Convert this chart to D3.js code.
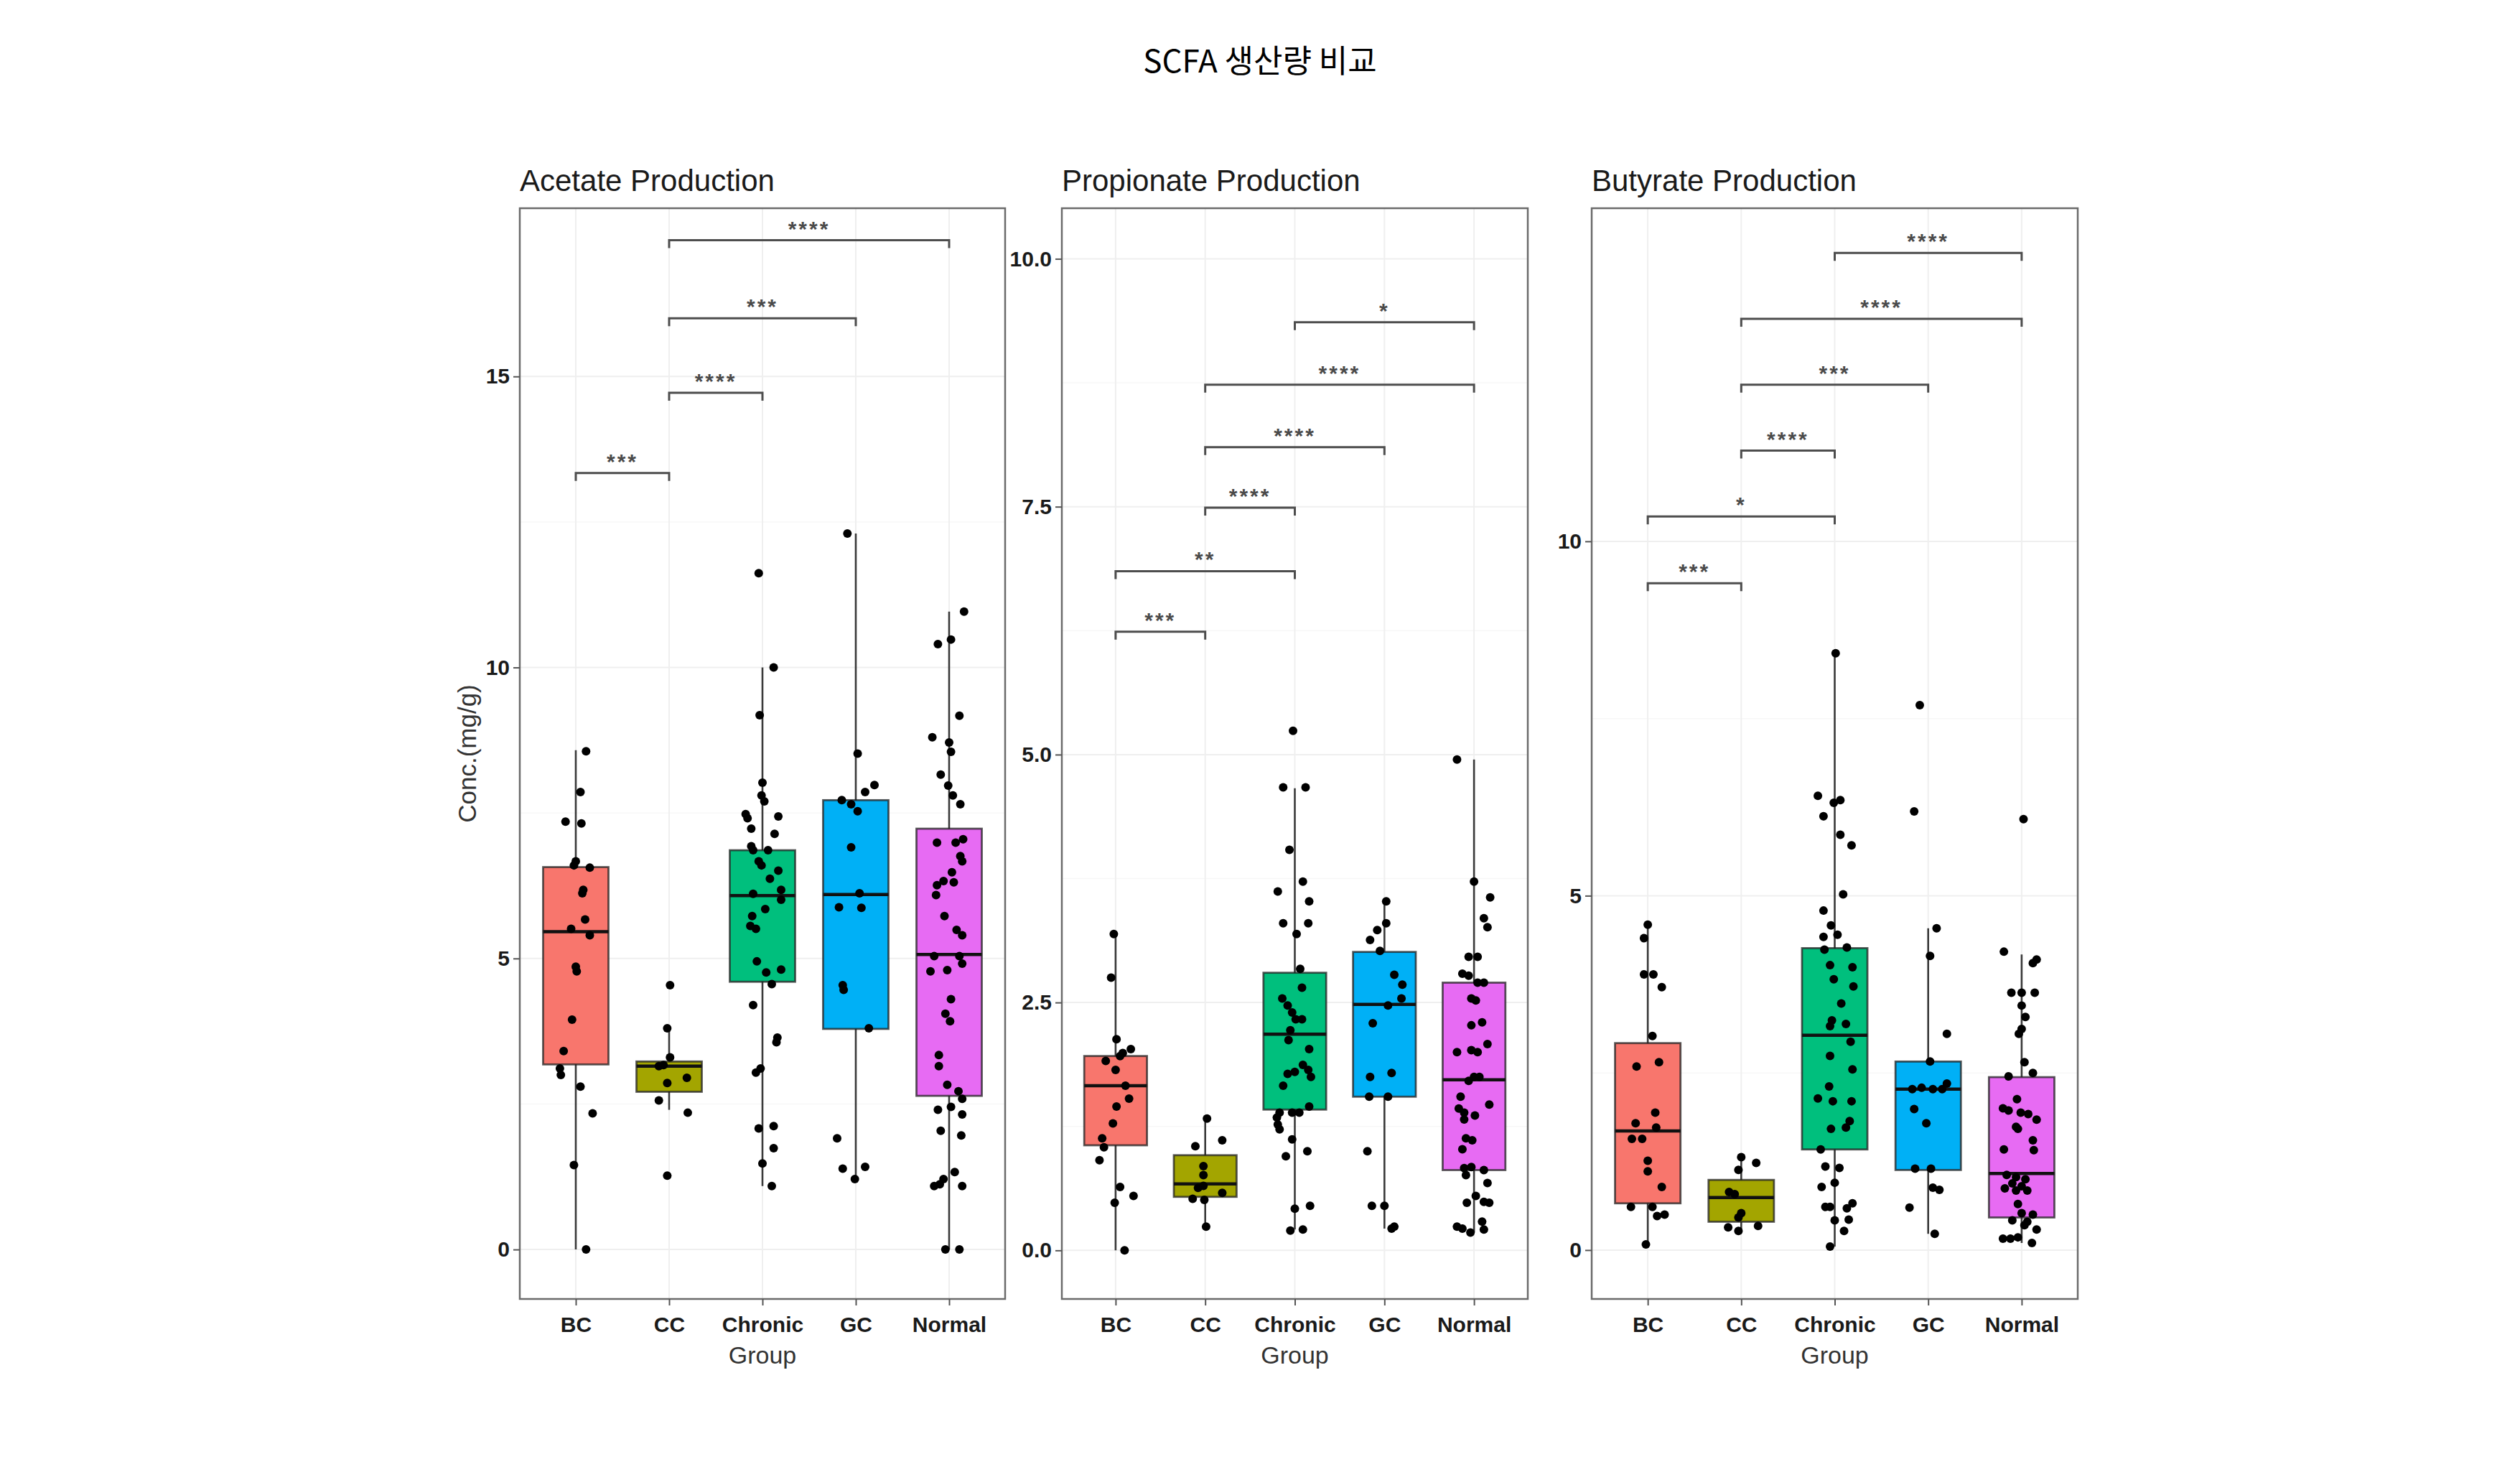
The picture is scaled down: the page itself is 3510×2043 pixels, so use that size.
<!DOCTYPE html>
<html>
<head>
<meta charset="utf-8">
<script src="https://cdn.jsdelivr.net/npm/d3@7/dist/d3.min.js"></script>
<style>
  html, body { margin: 0; padding: 0; background: #ffffff; }
  svg { display: block; }
</style>
</head>
<body>
<script>
// ---------------- DATA ----------------
const chartTitle = "SCFA 생산량 비교";
const categories = ["BC", "CC", "Chronic", "GC", "Normal"];
const panelTitles = ["Acetate Production", "Propionate Production", "Butyrate Production"];
const yAxisTitle = "Conc.(mg/g)";
const xAxisTitle = "Group";

// y-axis ticks
const acetateTicks = [0, 5, 10, 15];
const propionateTicks = [0, 2.5, 5, 7.5, 10];
const butyrateTicks = [0, 5, 10];
// y-axis domains (data range with 5% expansion)
const acetateDomain = [-0.85, 17.89];
const propionateDomain = [-0.49, 10.51];
const butyrateDomain = [-0.69, 14.70];

// box statistics: [lower whisker, Q1, median, Q3, upper whisker] per category
const acetateStats = [
  [0, 3.18, 5.46, 6.57, 8.58],
  [2.40, 2.71, 3.15, 3.23, 3.80],
  [1.09, 4.60, 6.08, 6.86, 10.0],
  [1.21, 3.79, 6.10, 7.72, 12.3],
  [0, 2.64, 5.07, 7.23, 10.96]
];
const propionateStats = [
  [0, 1.06, 1.66, 1.96, 3.19],
  [0.24, 0.54, 0.67, 0.96, 1.33],
  [0.21, 1.42, 2.18, 2.80, 4.66],
  [0.22, 1.55, 2.48, 3.01, 3.53],
  [0.18, 0.81, 1.72, 2.70, 4.95]
];
const butyrateStats = [
  [0.08, 0.66, 1.68, 2.92, 4.59],
  [0.29, 0.40, 0.74, 0.99, 1.32],
  [0.05, 1.42, 3.03, 4.26, 8.42],
  [0.23, 1.13, 2.27, 2.66, 4.54],
  [0.10, 0.46, 1.08, 2.44, 4.17]
];

// individual observations: [value, jitter (in category units)]
const acetateBC = [[8.56,0.11],[7.86,0.05],[7.35,-0.11],[7.32,0.06],[6.67,0],[6.60,-0.02],[6.56,0.15],[6.18,0.08],[6.12,0.07],[5.67,0.10],[5.51,-0.05],[5.40,0.15],[4.86,0],[4.78,0.01],[3.95,-0.04],[3.41,-0.13],[3.11,-0.17],[3.00,-0.16],[2.80,0.05],[2.34,0.18],[1.45,-0.02],[0,0.11]];
const acetateCC = [[4.54,0.01],[3.80,-0.02],[3.30,0.01],[3.17,-0.06],[3.15,-0.11],[2.95,0.19],[2.86,-0.02],[2.56,-0.11],[2.35,0.20],[1.27,-0.02]];
const acetateChronic = [[11.62,-0.04],[10.0,0.12],[9.18,-0.03],[8.02,0],[7.80,-0.01],[7.70,0.02],[7.48,-0.18],[7.41,-0.16],[7.44,0.17],[7.23,-0.12],[7.14,0.13],[6.93,-0.12],[6.86,-0.10],[6.86,0.06],[6.67,-0.04],[6.60,-0.01],[6.51,0.17],[6.37,0.08],[6.18,0.2],[6.01,0.2],[6.11,-0.1],[5.85,0.03],[5.73,-0.11],[5.56,-0.13],[5.51,-0.07],[4.95,-0.06],[4.76,0.04],[4.81,0.2],[4.56,0.1],[4.20,-0.1],[3.64,0.16],[3.56,0.15],[3.04,-0.07],[3.11,-0.02],[2.08,-0.04],[2.12,0.12],[1.74,0.12],[1.48,0],[1.09,0.1]];
const acetateGC = [[12.3,-0.09],[8.52,0.02],[7.98,0.2],[7.86,0.1],[7.72,-0.15],[7.65,-0.05],[7.53,0.02],[6.91,-0.05],[6.12,0.04],[5.88,-0.18],[5.87,0.06],[4.54,-0.14],[4.46,-0.13],[3.80,0.14],[1.91,-0.2],[1.39,-0.14],[1.42,0.1],[1.21,-0.01]];
const acetateNormal = [[10.96,0.16],[10.48,0.02],[10.40,-0.12],[9.17,0.11],[8.80,-0.18],[8.71,0],[8.55,0.02],[8.16,-0.09],[7.97,-0.01],[7.80,0.04],[7.65,0.12],[6.99,-0.13],[6.99,0.07],[7.05,0.15],[6.76,0.12],[6.67,0.14],[6.48,0.03],[6.33,-0.06],[6.31,0.05],[6.26,-0.13],[6.09,-0.14],[5.73,-0.05],[5.49,0.08],[5.40,0.14],[5.04,-0.16],[5.04,0.11],[4.91,0.14],[4.78,-0.2],[4.80,-0.02],[4.30,0.02],[4.05,-0.04],[3.92,0.01],[3.34,-0.11],[3.15,-0.11],[2.83,-0.02],[2.72,0.1],[2.59,0.14],[2.40,-0.12],[2.45,0.02],[2.32,0.14],[2.04,-0.09],[1.96,0.13],[1.33,0.06],[1.21,-0.06],[1.09,-0.16],[1.12,-0.1],[1.09,0.14],[0,-0.04],[0,0.11]];

const propionateBC = [[3.19,-0.02],[2.75,-0.05],[2.13,0.01],[2.03,0.17],[1.99,0.08],[1.96,0.05],[1.91,-0.11],[1.82,0],[1.66,0.11],[1.53,0.15],[1.45,0.01],[1.28,-0.03],[1.13,-0.15],[1.04,-0.13],[0.91,-0.18],[0.64,0.05],[0.55,0.2],[0.48,-0.01],[0,0.1]];
const propionateCC = [[1.33,0.02],[1.11,0.19],[1.05,-0.11],[0.85,-0.02],[0.76,-0.02],[0.65,-0.02],[0.63,-0.08],[0.58,0.19],[0.52,-0.14],[0.51,-0.01],[0.24,0.01]];
const propionateChronic = [[5.24,-0.02],[4.67,-0.13],[4.67,0.12],[4.04,-0.06],[3.72,0.09],[3.62,-0.19],[3.52,0.16],[3.30,-0.13],[3.30,0.15],[3.19,0.02],[2.84,0.06],[2.65,0.08],[2.54,-0.14],[2.47,-0.08],[2.40,-0.03],[2.33,0.01],[2.33,0.08],[2.22,-0.05],[2.12,-0.07],[2.03,0.16],[1.87,0.09],[1.80,0],[1.78,-0.08],[1.82,0.15],[1.75,0.18],[1.66,-0.13],[1.45,0.16],[1.39,-0.17],[1.39,-0.03],[1.39,0.05],[1.34,-0.2],[1.27,-0.19],[1.22,-0.17],[1.12,-0.03],[1.00,0.14],[0.95,-0.1],[0.45,0.17],[0.42,0],[0.20,-0.05],[0.21,0.09]];
const propionateGC = [[3.52,0.02],[3.30,0.02],[3.23,-0.08],[3.13,-0.16],[3.02,-0.05],[2.78,0.11],[2.68,0.2],[2.54,0.19],[2.47,0.04],[2.29,-0.13],[1.79,0.08],[1.75,-0.16],[1.55,-0.17],[1.55,0.04],[1.00,-0.19],[0.45,-0.14],[0.45,0],[0.22,0.08],[0.24,0.11]];
const propionateNormal = [[4.95,-0.19],[3.72,0],[3.56,0.18],[3.35,0.11],[3.26,0.15],[2.96,0.04],[2.96,-0.06],[2.79,-0.13],[2.77,-0.06],[2.70,0.04],[2.70,0.11],[2.54,-0.03],[2.52,0.02],[2.27,-0.03],[2.30,0.09],[2.00,-0.19],[2.02,-0.03],[2.00,0.04],[2.08,0.15],[1.75,0],[1.75,0.06],[1.71,-0.06],[1.55,-0.15],[1.43,-0.17],[1.39,-0.11],[1.36,0.01],[1.47,0.17],[1.32,-0.11],[1.13,-0.09],[1.11,-0.02],[1.02,-0.13],[0.83,-0.11],[0.84,-0.03],[0.81,0.11],[0.76,-0.09],[0.68,0.15],[0.55,0.02],[0.48,-0.08],[0.49,0.11],[0.48,0.17],[0.29,0.09],[0.24,-0.19],[0.22,-0.13],[0.18,-0.04],[0.21,0.11]];

const butyrateBC = [[4.59,0],[4.40,-0.04],[3.89,-0.04],[3.89,0.06],[3.71,0.15],[3.02,0.05],[2.59,-0.12],[2.65,0.12],[1.94,0.08],[1.79,-0.13],[1.73,0.09],[1.57,-0.17],[1.57,-0.06],[1.26,0],[1.11,0],[0.89,0.15],[0.61,-0.18],[0.61,0.05],[0.48,0.1],[0.50,0.18],[0.08,-0.02]];
const butyrateCC = [[1.31,0],[1.23,0.16],[1.13,-0.03],[0.82,-0.13],[0.79,-0.07],[0.52,0],[0.46,-0.03],[0.32,-0.14],[0.27,-0.03],[0.34,0.18]];
const butyrateChronic = [[8.42,0.01],[6.41,-0.18],[6.31,-0.01],[6.35,0.06],[6.12,-0.12],[5.86,0.06],[5.71,0.18],[5.02,0.09],[4.79,-0.12],[4.58,-0.04],[4.42,-0.12],[4.45,0.03],[4.24,-0.11],[4.27,0.13],[4.02,-0.05],[3.99,0.19],[3.82,-0.01],[3.72,0.2],[3.48,0.07],[3.24,-0.03],[3.19,0.12],[3.16,-0.05],[2.94,0.17],[2.74,-0.05],[2.55,0.19],[2.31,-0.06],[2.14,-0.18],[2.10,-0.02],[2.10,0.18],[1.71,-0.04],[1.73,0.12],[1.82,0.16],[1.42,-0.15],[1.18,-0.1],[1.16,0.05],[0.95,0],[0.89,-0.14],[0.66,0.19],[0.61,-0.05],[0.61,-0.1],[0.59,0.13],[0.42,0],[0.43,0.15],[0.27,0.1],[0.05,-0.05]];
const butyrateGC = [[7.69,-0.09],[6.19,-0.15],[4.54,0.09],[4.15,0.02],[3.05,0.2],[2.66,0.02],[2.35,0.2],[2.27,-0.17],[2.29,-0.07],[2.27,0.05],[2.27,0.15],[1.99,-0.15],[1.79,-0.02],[1.15,-0.14],[1.15,0.03],[0.88,0.05],[0.85,0.12],[0.60,-0.2],[0.23,0.07]];
const butyrateNormal = [[6.08,0.02],[4.21,-0.19],[4.10,0.16],[4.05,0.12],[3.63,-0.11],[3.63,0],[3.63,0.14],[3.45,0],[3.29,0.04],[3.12,0],[3.05,-0.03],[2.65,0.03],[2.45,-0.14],[2.50,0.12],[2.13,-0.05],[2.00,-0.2],[1.97,-0.14],[1.94,-0.01],[1.92,0.07],[1.84,0.16],[1.74,-0.06],[1.71,-0.04],[1.55,0.12],[1.42,-0.19],[1.41,0.13],[1.06,-0.16],[1.03,-0.06],[1.00,0.04],[0.94,-0.1],[0.90,0],[0.87,-0.18],[0.84,-0.06],[0.84,0.06],[0.65,-0.04],[0.52,0],[0.42,-0.1],[0.50,0.12],[0.40,0.06],[0.29,0.16],[0.16,-0.2],[0.16,-0.12],[0.18,-0.04],[0.10,0.11],[0.35,0.03]];

// significance brackets: [group A, group B, height, label]
const acetateBrackets = [["BC","CC",13.34,"***"],["CC","Chronic",14.72,"****"],["CC","GC",16.0,"***"],["CC","Normal",17.34,"****"]];
const propionateBrackets = [["BC","CC",6.24,"***"],["BC","Chronic",6.85,"**"],["CC","Chronic",7.49,"****"],["CC","GC",8.10,"****"],["CC","Normal",8.73,"****"],["Chronic","Normal",9.36,"*"]];
const butyrateBrackets = [["BC","CC",9.41,"***"],["BC","Chronic",10.35,"*"],["CC","Chronic",11.28,"****"],["CC","GC",12.21,"***"],["CC","Normal",13.14,"****"],["Chronic","Normal",14.07,"****"]];

// ---------------- LAYOUT / STYLE ----------------
const W = 3510, H = 2043;
const fillColors = ["#F8766D", "#A3A500", "#00BF7D", "#00B0F6", "#E76BF3"];
const panelBoxes = [
  { left: 724, right: 1400 },
  { left: 1479, right: 2128 },
  { left: 2217, right: 2894 }
];
const panelTop = 290, panelBottom = 1809;

const panels = [
  { title: panelTitles[0], ticks: acetateTicks, domain: acetateDomain, stats: acetateStats,
    points: [acetateBC, acetateCC, acetateChronic, acetateGC, acetateNormal], brackets: acetateBrackets, fmt: d3.format("d") },
  { title: panelTitles[1], ticks: propionateTicks, domain: propionateDomain, stats: propionateStats,
    points: [propionateBC, propionateCC, propionateChronic, propionateGC, propionateNormal], brackets: propionateBrackets, fmt: d3.format(".1f") },
  { title: panelTitles[2], ticks: butyrateTicks, domain: butyrateDomain, stats: butyrateStats,
    points: [butyrateBC, butyrateCC, butyrateChronic, butyrateGC, butyrateNormal], brackets: butyrateBrackets, fmt: d3.format("d") }
];

const svg = d3.select("body").append("svg")
  .attr("width", W).attr("height", H)
  .attr("viewBox", `0 0 ${W} ${H}`);

svg.append("rect").attr("width", W).attr("height", H).attr("fill", "#ffffff");

// main title
svg.append("text")
  .attr("x", W / 2).attr("y", 101)
  .attr("text-anchor", "middle")
  .style("font-family", "'Noto Sans CJK KR', 'Noto Sans', sans-serif")
  .style("font-size", "44px")
  .style("font-weight", 400)
  .attr("fill", "#000")
  .text(chartTitle);

const sansFont = "'Liberation Sans', Arial, sans-serif";

panels.forEach((p, pi) => {
  const box = panelBoxes[pi];
  const g = svg.append("g");

  const x = d3.scalePoint().domain(categories).range([box.left, box.right]).padding(0.6);
  const step = x.step();
  const y = d3.scaleLinear().domain(p.domain).range([panelBottom, panelTop]);

  // grid lines
  const grid = g.append("g");
  const minor = [];
  for (let k = 0; k < p.ticks.length - 1; k++) minor.push((p.ticks[k] + p.ticks[k + 1]) / 2);
  grid.selectAll("line.minor").data(minor).join("line")
    .attr("x1", box.left).attr("x2", box.right)
    .attr("y1", d => y(d)).attr("y2", d => y(d))
    .attr("stroke", "#f7f7f7").attr("stroke-width", 1.5);
  grid.selectAll("line.hmaj").data(p.ticks).join("line")
    .attr("x1", box.left).attr("x2", box.right)
    .attr("y1", d => y(d)).attr("y2", d => y(d))
    .attr("stroke", "#efefef").attr("stroke-width", 2);
  grid.selectAll("line.vmaj").data(categories).join("line")
    .attr("x1", d => x(d)).attr("x2", d => x(d))
    .attr("y1", panelTop).attr("y2", panelBottom)
    .attr("stroke", "#efefef").attr("stroke-width", 2);

  // boxplots
  const bw = step * 0.7;
  const boxes = g.append("g");
  categories.forEach((c, ci) => {
    const s = p.stats[ci];
    const cx = x(c);
    boxes.append("line")
      .attr("x1", cx).attr("x2", cx)
      .attr("y1", y(s[0])).attr("y2", y(s[4]))
      .attr("stroke", "#3a3a3a").attr("stroke-width", 2.6);
    boxes.append("rect")
      .attr("x", cx - bw / 2).attr("width", bw)
      .attr("y", y(s[3])).attr("height", y(s[1]) - y(s[3]))
      .attr("fill", fillColors[ci])
      .attr("stroke", "#222").attr("stroke-opacity", 0.75).attr("stroke-width", 2.8);
    boxes.append("line")
      .attr("x1", cx - bw / 2).attr("x2", cx + bw / 2)
      .attr("y1", y(s[2])).attr("y2", y(s[2]))
      .attr("stroke", "#111").attr("stroke-width", 4.5);
  });

  // jittered points
  const pts = g.append("g");
  categories.forEach((c, ci) => {
    pts.selectAll(null).data(p.points[ci]).join("circle")
      .attr("cx", d => x(c) + d[1] * step)
      .attr("cy", d => y(d[0]))
      .attr("r", 6)
      .attr("fill", "#000");
  });

  // significance brackets
  const br = g.append("g");
  const tip = 11;
  p.brackets.forEach(b => {
    const x1 = x(b[0]), x2 = x(b[1]), yy = y(b[2]);
    br.append("path")
      .attr("d", `M${x1},${yy + tip}V${yy}H${x2}V${yy + tip}`)
      .attr("fill", "none")
      .attr("stroke", "#4d4d4d").attr("stroke-width", 3);
    br.append("text")
      .attr("x", (x1 + x2) / 2).attr("y", yy - 6)
      .attr("text-anchor", "middle")
      .style("font-family", sansFont)
      .style("font-size", "30px")
      .style("font-weight", "bold")
      .style("letter-spacing", "3px")
      .attr("fill", "#4a4a4a")
      .text(b[3]);
  });

  // panel border
  g.append("rect")
    .attr("x", box.left).attr("y", panelTop)
    .attr("width", box.right - box.left).attr("height", panelBottom - panelTop)
    .attr("fill", "none").attr("stroke", "#6b6b6b").attr("stroke-width", 2.5);

  // y axis
  const yAxis = g.append("g")
    .attr("transform", `translate(${box.left},0)`)
    .call(d3.axisLeft(y).tickValues(p.ticks).tickFormat(p.fmt).tickSize(9).tickPadding(5));
  yAxis.select(".domain").remove();
  yAxis.selectAll(".tick line").attr("stroke", "#555").attr("stroke-width", 2);
  yAxis.selectAll(".tick text")
    .style("font-family", sansFont).style("font-size", "30px").style("font-weight", "bold")
    .attr("fill", "#1a1a1a");

  // x axis
  const xAxis = g.append("g")
    .attr("transform", `translate(0,${panelBottom})`)
    .call(d3.axisBottom(x).tickSize(9).tickPadding(16));
  xAxis.select(".domain").remove();
  xAxis.selectAll(".tick line").attr("stroke", "#555").attr("stroke-width", 2);
  xAxis.selectAll(".tick text")
    .style("font-family", sansFont).style("font-size", "30px").style("font-weight", "bold")
    .attr("fill", "#1a1a1a");

  // x axis title
  g.append("text")
    .attr("x", (box.left + box.right) / 2).attr("y", 1899)
    .attr("text-anchor", "middle")
    .style("font-family", sansFont).style("font-size", "34px")
    .attr("fill", "#333")
    .text(xAxisTitle);

  // panel title
  g.append("text")
    .attr("x", box.left).attr("y", 266)
    .style("font-family", sansFont).style("font-size", "42px")
    .attr("fill", "#1a1a1a")
    .text(p.title);

  if (pi === 0) {
    g.append("text")
      .attr("transform", `translate(663,${(panelTop + panelBottom) / 2}) rotate(-90)`)
      .attr("text-anchor", "middle")
      .style("font-family", sansFont).style("font-size", "35px")
      .attr("fill", "#333")
      .text(yAxisTitle);
  }
});
</script>
</body>
</html>
